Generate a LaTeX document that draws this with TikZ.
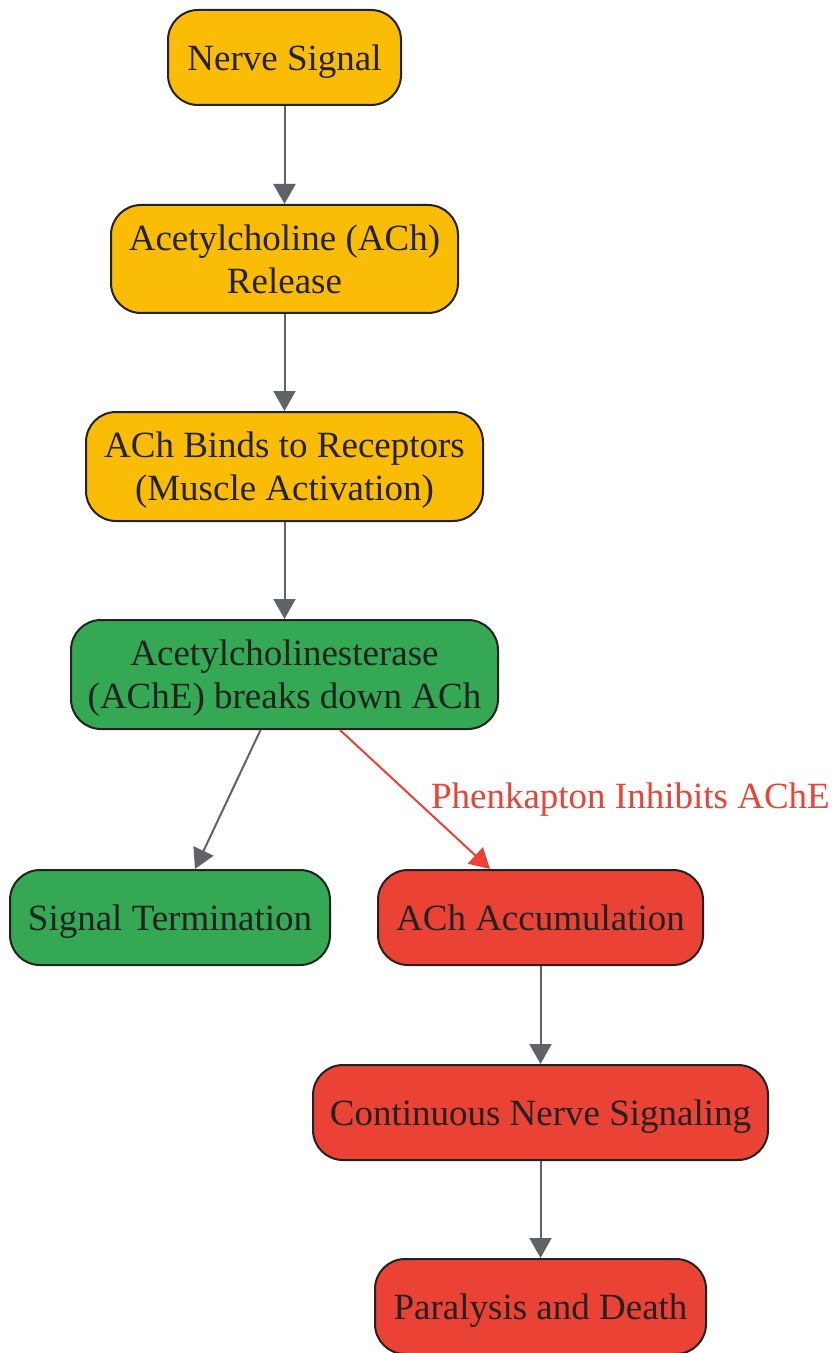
\documentclass[tikz,border=0pt]{standalone}
\usepackage{fontspec}
\setmainfont{Liberation Serif}
\usetikzlibrary{arrows.meta}

\definecolor{stepyellow}{HTML}{FBBC05}
\definecolor{stepgreen}{HTML}{34A853}
\definecolor{stepred}{HTML}{EA4335}
\definecolor{edgegray}{HTML}{5F6368}
\definecolor{textdark}{HTML}{222222}

\begin{document}
\begin{tikzpicture}[x=0.5pt,y=-0.5pt,
        box/.style={draw=textdark,line width=1pt,rounded corners=15pt,align=center,
            text=textdark,font=\fontsize{18.5}{21.5}\selectfont,inner sep=0pt,text depth=0pt},
        flow/.style={edgegray,line width=1pt,-{Triangle[length=10pt,width=11pt]}},
        inhibit/.style={stepred,line width=1pt,-{Triangle[length=10pt,width=11pt]}}]
    \useasboundingbox (0,0) rectangle (832,1353);

    \node[box,fill=stepyellow,minimum width=116.5pt,minimum height=47.5pt] (signal) at (284.5,57.5) {Nerve Signal};
    \node[box,fill=stepyellow,minimum width=173.5pt,minimum height=54pt] (release) at (284.5,259) {Acetylcholine (ACh)\\Release};
    \node[box,fill=stepyellow,minimum width=198.5pt,minimum height=54.5pt] (binds) at (284.5,466.5) {ACh Binds to Receptors\\(Muscle Activation)};
    \node[box,fill=stepgreen,minimum width=213.5pt,minimum height=54.5pt] (ache) at (284.5,674.5) {Acetylcholinesterase\\(AChE) breaks down ACh};
    \node[box,fill=stepgreen,minimum width=160pt,minimum height=47.5pt] (termination) at (170,917.5) {Signal Termination};
    \node[box,fill=stepred,minimum width=162.5pt,minimum height=47.5pt] (accumulation) at (540.5,917.5) {ACh Accumulation};
    \node[box,fill=stepred,minimum width=227.5pt,minimum height=47.5pt] (continuous) at (540.5,1112.5) {Continuous Nerve Signaling};
    \node[box,fill=stepred,minimum width=165.5pt,minimum height=47.5pt] (paralysis) at (540.5,1306.5) {Paralysis and Death};

    \draw[flow] (signal) -- (release);
    \draw[flow] (release) -- (binds);
    \draw[flow] (binds) -- (ache);
    \draw[flow] ([xshift=-12pt]ache.south) -- ([xshift=12.5pt]termination.north);
    \draw[inhibit] ([xshift=27.75pt]ache.south) -- ([xshift=-25.25pt]accumulation.north)
        node[midway,right=7.5pt,inner sep=0pt,text=stepred,font=\fontsize{18.5}{21.5}\selectfont] {Phenkapton Inhibits AChE};
    \draw[flow] (accumulation) -- (continuous);
    \draw[flow] (continuous) -- (paralysis);
\end{tikzpicture}
\end{document}
